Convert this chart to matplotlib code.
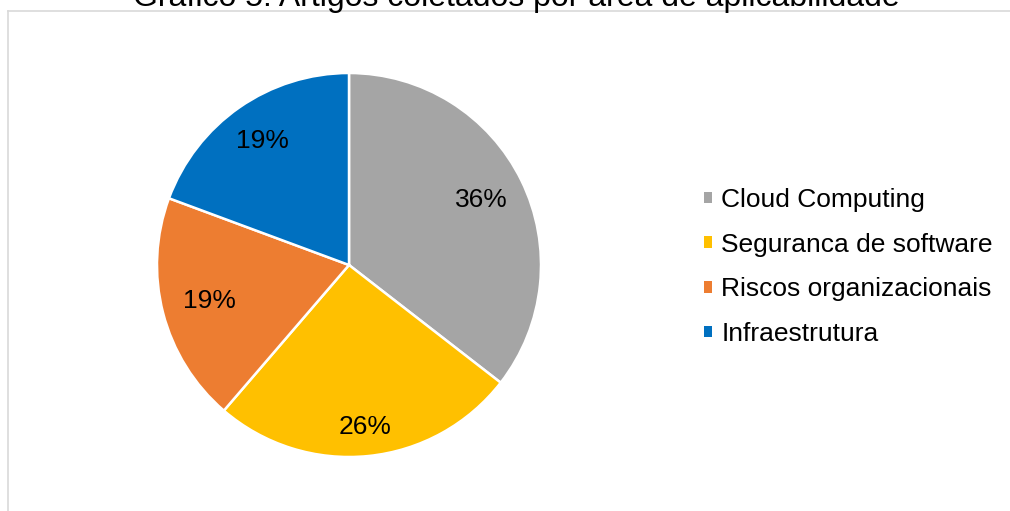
import numpy as np
import matplotlib
matplotlib.use("Agg")
import matplotlib.pyplot as plt
from matplotlib.patches import Patch
from matplotlib.lines import Line2D

plt.rcParams['font.family'] = ['Liberation Sans', 'DejaVu Sans']

title = "Gráfico 5: Artigos coletados por área de aplicabilidade"
categories = ["Cloud Computing", "Seguranca de software", "Riscos organizacionais", "Infraestrutura"]
shares = [35.5, 25.8, 19.35, 19.35]
pct_labels = ["36%", "26%", "19%", "19%"]
colors = ["#A5A5A5", "#FFC000", "#ED7D31", "#0070C0"]
label_r = [0.77, 0.85, 0.75, 0.785]

W, H = 1010, 511
fig = plt.figure(figsize=(W / 100, H / 100), dpi=100)

# outer chart border (only top and left visible)
fig.add_artist(Line2D([8 / W, 8 / W], [0, 1 - 11 / H], color="#D9D9D9", lw=1.2))
fig.add_artist(Line2D([8 / W, 1], [1 - 11 / H, 1 - 11 / H], color="#D9D9D9", lw=1.2))

fig.text(516 / W, 1 - 6 / H, title, ha='center', va='baseline', fontsize=23, color='black')

ax = fig.add_axes([157 / W, 54 / H, 384 / W, 384 / H])
wedges, texts = ax.pie(shares, colors=colors, startangle=90, counterclock=False,
                       wedgeprops=dict(edgecolor='white', linewidth=1.8))
for w, lab, r in zip(wedges, pct_labels, label_r):
    ang = np.deg2rad((w.theta1 + w.theta2) / 2)
    ax.text(r * np.cos(ang), r * np.sin(ang), lab, ha='center', va='center',
            fontsize=19, color='black')
ax.set_xlim(-1, 1)
ax.set_ylim(-1, 1)
ax.set_aspect('equal')

handles = [Patch(facecolor=c, edgecolor='none') for c in colors]
fig.legend(handles, categories, loc='center left', bbox_to_anchor=(704 / W, 1 - 267 / H),
           frameon=False, borderpad=0, borderaxespad=0, fontsize=19,
           handlelength=0.3, handleheight=0.3, handletextpad=0.35, labelspacing=0.78)

fig.savefig("out.png", dpi=100)
